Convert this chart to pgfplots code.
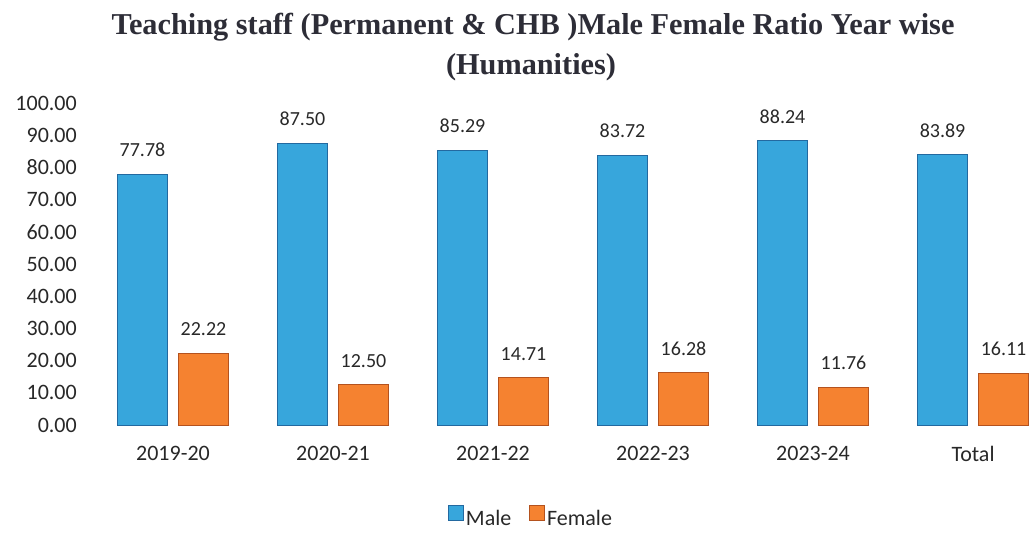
\documentclass[border=0pt]{standalone}
\usepackage{fontspec}
\setmainfont{Carlito}
\newfontfamily\titlefont{Liberation Serif}
\usepackage{pgfplots}
\pgfplotsset{compat=1.18}
\definecolor{maleblue}{RGB}{55,166,220}
\definecolor{maleedge}{RGB}{35,105,160}
\definecolor{femorange}{RGB}{245,130,48}
\definecolor{femedge}{RGB}{180,82,30}
\definecolor{titlegray}{RGB}{45,45,55}
\definecolor{txtgray}{RGB}{40,40,40}
\begin{document}
\begin{tikzpicture}
\path[use as bounding box] (0,0) rectangle (1030pt,533pt);
\node[anchor=base, text=titlegray, font=\titlefont\bfseries\fontsize{30.3}{36}\selectfont] at (533pt,498pt) {Teaching staff (Permanent \& CHB )Male Female Ratio Year wise};
\node[anchor=base, text=titlegray, font=\titlefont\bfseries\fontsize{30.3}{36}\selectfont] at (531pt,458pt) {(Humanities)};
\begin{axis}[
  at={(93pt,108pt)}, anchor=south west,
  scale only axis, width=937pt, height=322pt,
  ybar=11pt, bar width=50pt,
  xmin=-0.5, xmax=5.356, ymin=0, ymax=100,
  ytick={0,10,20,30,40,50,60,70,80,90,100},
  xtick={0,1,2,3,4,5},
  xticklabels={2019-20,2020-21,2021-22,2022-23,2023-24,Total},
  axis line style={draw=none},
  major tick length=0pt,
  yticklabel style={font=\fontsize{22}{26}\selectfont, text=txtgray, xshift=-12.7pt,
    /pgf/number format/.cd, fixed, fixed zerofill, precision=2, assume math mode=true},
  xticklabel style={font=\fontsize{22}{26}\selectfont, text=txtgray, yshift=-18pt},
  nodes near coords={\pgfmathprintnumber[fixed,fixed zerofill,precision=2,assume math mode=true]{\pgfplotspointmeta}},
  every node near coord/.append style={font=\fontsize{20}{24}\selectfont, text=txtgray, inner sep=0pt, yshift=17pt},
  legend style={at={(0.4675,-0.285)}, anchor=center, draw=none, fill=none,
    font=\fontsize{22}{26}\selectfont, text=txtgray, legend columns=2,
    nodes={inner sep=2pt},
    /tikz/every even column/.append style={column sep=16pt}},
  legend image code/.code={\draw[#1] (0pt,-2pt) rectangle (15pt,13pt);},
]
\addplot[fill=maleblue, draw=maleedge, line width=0.8pt] coordinates {(0,77.78) (1,87.50) (2,85.29) (3,83.72) (4,88.24) (5,83.89)};
\addplot[fill=femorange, draw=femedge, line width=0.8pt] coordinates {(0,22.22) (1,12.50) (2,14.71) (3,16.28) (4,11.76) (5,16.11)};
\legend{Male,Female}
\end{axis}
\end{tikzpicture}
\end{document}
